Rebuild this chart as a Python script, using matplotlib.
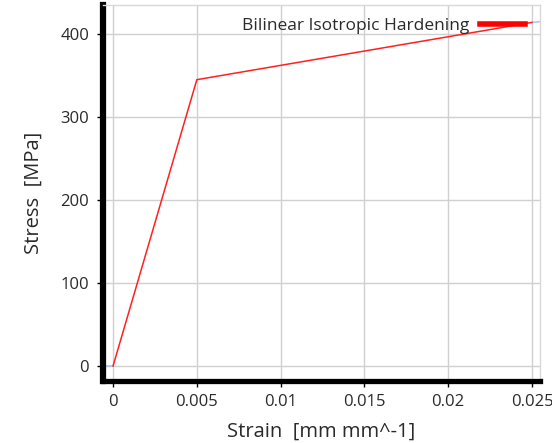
import matplotlib
matplotlib.use("Agg")
import matplotlib.pyplot as plt

plt.rcParams['font.family'] = ['Open Sans', 'DejaVu Sans']

# bilinear curve
strain = [0.0, 0.005, 0.025]
stress = [0.0, 345.0, 414.0]
# light blue extrapolation stubs at both ends
ext_left_x = [-0.0006, 0.0]
ext_left_y = [0.0, 0.0]
ext_right_x = [0.025, 0.0255]
ext_right_y = [414.0, 415.0]

xticks = [0, 0.005, 0.01, 0.015, 0.02, 0.025]
xticklabels = ['0', '0.005', '0.01', '0.015', '0.02', '0.025']
yticks = [0, 100, 200, 300, 400]

txt = '#2a2a2a'

fig = plt.figure(figsize=(5.52, 4.43), dpi=100)
ax = fig.add_axes([103 / 552, 1 - 380.5 / 443, (540 - 103) / 552, (380.5 - 5) / 443])

ax.plot(ext_left_x, ext_left_y, color='#a8c8f0', lw=1.2, zorder=2)
ax.plot(ext_right_x, ext_right_y, color='#a8c8f0', lw=1.2, zorder=2)
ax.plot(strain, stress, color='#ff2020', lw=1.1, zorder=3, label='Bilinear Isotropic Hardening')

ax.set_xlim(-0.0006, 0.02548)
ax.set_ylim(-17.5, 435)
ax.set_xticks(xticks)
ax.set_xticklabels(xticklabels)
ax.set_yticks(yticks)
ax.grid(True, color='#d0d0d0', lw=1)
ax.set_axisbelow(True)

ax.spines['left'].set_linewidth(4.5)
ax.spines['bottom'].set_linewidth(3.8)
ax.spines['left'].set_color('black')
ax.spines['bottom'].set_color('black')
for s in ['top', 'right']:
    ax.spines[s].set_color('#d8d8d8')
    ax.spines[s].set_linewidth(1)

ax.tick_params(axis='both', labelsize=12, colors='black', labelcolor=txt, length=4, width=1, pad=6)

ax.set_xlabel('Strain  [mm mm^-1]', fontsize=14.5, color=txt, labelpad=8)
ax.set_ylabel('Stress  [MPa]', fontsize=14.5, color=txt, labelpad=12)

leg = ax.legend(loc='center right', frameon=False, markerfirst=False, fontsize=12.5,
                handlelength=2.6, handletextpad=0.6, borderpad=0, borderaxespad=0,
                bbox_to_anchor=((525 - 103) / 437, 1 - 21 / 375.5))
for line in leg.get_lines():
    line.set_linewidth(4)
    line.set_color('red')
for t in leg.get_texts():
    t.set_color(txt)

fig.savefig('out.png', dpi=100)
